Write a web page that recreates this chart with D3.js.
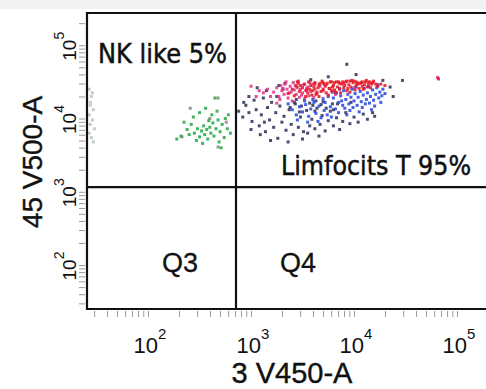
<!DOCTYPE html>
<html>
<head>
<meta charset="utf-8">
<script src="https://cdn.jsdelivr.net/npm/d3@7"></script>
<style>
  html, body { margin: 0; padding: 0; background: #fff; }
  svg { display: block; }
</style>
</head>
<body>
<div id="plot"></div>
<script>
// Events as [log10 V450-A, log10 V500-A] pairs
var tcellDark = [
  2.88,4.10, 2.92,4.02, 2.95,4.18, 2.98,4.08, 3.01,3.96, 3.03,4.25, 3.05,4.12, 3.08,3.90, 3.10,4.05, 3.12,4.28,
  3.14,3.82, 3.16,4.15, 3.18,3.98, 3.20,4.22, 3.22,3.88, 3.24,4.08, 3.26,3.73, 3.28,4.17, 3.30,3.95, 3.32,4.03,
  3.34,3.84, 3.37,4.12, 3.39,3.92, 3.41,3.78, 3.43,4.20, 3.46,3.88, 3.48,4.02, 3.51,3.82, 3.54,4.11, 3.57,3.90,
  3.59,3.99, 3.62,3.86, 3.64,4.14, 3.67,3.92, 3.69,4.04, 3.72,3.83, 3.75,3.97, 3.77,4.10, 3.80,3.90, 3.83,4.01,
  3.86,3.85, 3.89,3.96, 3.92,4.08, 3.96,3.93, 4.00,4.02, 4.04,3.95, 4.09,4.06, 4.13,3.99, 4.18,4.08, 3.31,4.40,
  3.27,4.45, 3.15,4.38, 3.06,4.42, 2.98,4.30, 3.09,3.78, 3.19,3.70, 3.36,3.68, 3.50,3.72, 3.66,3.76, 3.33,4.48,
  3.58,4.53, 3.75,4.57, 3.93,4.74, 4.02,4.60, 4.28,4.52, 4.35,4.43, 4.47,4.52, 4.38,4.30, 4.20,4.03, 3.84,4.20,
  3.60,4.18, 3.44,4.26, 3.25,4.30, 3.70,4.23, 3.97,4.22, 2.93,4.22, 3.00,3.85, 3.13,3.95, 3.55,3.80, 3.80,4.12,
  3.38,4.15, 3.42,4.22, 3.49,4.17, 3.57,4.21, 3.63,4.24, 3.68,4.19, 3.73,4.14, 3.79,4.20, 3.47,4.09, 3.62,4.10
];
var tcellPink = [
  3.22,4.36, 3.25,4.42, 3.27,4.30, 3.29,4.45, 3.30,4.38, 3.32,4.33, 3.33,4.47, 3.35,4.40, 3.36,4.28, 3.38,4.44,
  3.39,4.36, 3.41,4.49, 3.42,4.39, 3.44,4.33, 3.45,4.42, 3.47,4.29, 3.48,4.40, 3.50,4.35, 3.51,4.46, 3.53,4.38,
  3.55,4.43, 3.56,4.31, 3.58,4.37, 3.60,4.47, 3.62,4.40, 3.64,4.34, 3.67,4.44, 3.70,4.38, 3.73,4.46, 3.28,4.26,
  3.34,4.50, 3.40,4.24, 3.46,4.51, 3.52,4.27, 3.57,4.49, 3.12,4.35, 3.16,4.40, 3.19,4.30, 3.08,4.38, 3.31,4.41,
  3.37,4.35, 3.43,4.45, 3.49,4.32, 3.54,4.41, 3.61,4.29, 3.76,4.41, 3.82,4.33, 3.90,4.48, 4.00,4.42, 3.25,4.21,
  3.05,4.30, 3.00,4.44, 4.81,4.56
];
var tcellBlue = [
  3.80,4.28, 3.83,4.35, 3.85,4.22, 3.87,4.31, 3.89,4.18, 3.90,4.38, 3.92,4.26, 3.94,4.33, 3.95,4.20, 3.97,4.29,
  3.98,4.40, 4.00,4.24, 4.01,4.34, 4.03,4.18, 4.04,4.29, 4.06,4.37, 4.07,4.23, 4.09,4.32, 4.10,4.41, 4.12,4.26,
  4.13,4.35, 4.15,4.21, 4.16,4.30, 4.18,4.39, 4.19,4.25, 4.21,4.33, 4.22,4.42, 4.24,4.28, 4.25,4.36, 4.27,4.31,
  4.28,4.40, 4.30,4.34, 3.72,4.22, 3.75,4.30, 3.77,4.16, 3.79,4.36, 3.82,4.13, 3.86,4.41, 3.91,4.14, 3.96,4.11,
  4.02,4.43, 4.08,4.15, 4.14,4.44, 4.20,4.17, 4.26,4.22, 4.23,4.46, 3.40,4.12, 3.44,4.05, 3.47,4.16, 3.50,4.09,
  3.53,4.19, 3.56,4.03, 3.58,4.13, 3.61,4.22, 3.63,4.07, 3.66,4.17, 3.68,4.01, 3.71,4.11, 3.74,4.05, 3.36,4.20,
  3.45,3.98, 3.55,3.95, 3.65,3.96, 3.78,4.02, 3.85,4.08, 3.93,4.05, 4.05,4.09, 3.60,4.26, 3.70,4.27, 3.52,4.24,
  3.88,4.24, 3.99,4.15, 4.11,4.20, 4.17,4.12
];
var tcellRed = [
  3.40,4.40, 3.44,4.44, 3.47,4.37, 3.50,4.42, 3.52,4.47, 3.55,4.35, 3.57,4.40, 3.58,4.45, 3.60,4.38, 3.62,4.49,
  3.63,4.33, 3.65,4.42, 3.66,4.46, 3.68,4.37, 3.69,4.51, 3.70,4.40, 3.72,4.44, 3.73,4.35, 3.74,4.48, 3.76,4.41,
  3.77,4.50, 3.78,4.38, 3.80,4.45, 3.81,4.49, 3.82,4.36, 3.84,4.43, 3.85,4.50, 3.86,4.40, 3.88,4.47, 3.89,4.50,
  3.90,4.42, 3.92,4.50, 3.93,4.38, 3.95,4.46, 3.96,4.51, 3.97,4.43, 3.99,4.49, 4.00,4.51, 4.02,4.45, 4.03,4.49,
  4.05,4.41, 4.06,4.48, 4.08,4.50, 4.10,4.46, 4.11,4.50, 4.13,4.43, 4.15,4.50, 4.17,4.47, 4.19,4.51, 4.21,4.47,
  3.36,4.34, 3.42,4.31, 3.46,4.48, 3.53,4.30, 3.56,4.50, 3.61,4.43, 3.64,4.36, 3.67,4.48, 3.71,4.47, 3.75,4.32,
  3.79,4.43, 3.83,4.50, 3.87,4.35, 3.91,4.45, 3.94,4.41, 3.98,4.52, 4.01,4.39, 4.04,4.47, 4.07,4.49, 4.09,4.40,
  4.12,4.52, 4.14,4.48, 4.16,4.42, 4.18,4.49, 4.23,4.44, 3.48,4.45, 3.59,4.32, 3.70,4.49, 3.86,4.48, 3.93,4.51,
  4.02,4.50, 3.78,4.50, 3.54,4.39, 3.66,4.30, 3.81,4.39, 3.96,4.36, 4.08,4.44, 3.62,4.47, 3.45,4.50, 4.26,4.47,
  4.30,4.45, 4.82,4.54
];
var nkGreen = [
  2.45,3.80, 2.48,3.86, 2.50,3.75, 2.52,3.83, 2.54,3.90, 2.55,3.78, 2.57,3.85, 2.58,3.72, 2.60,3.88, 2.61,3.80,
  2.63,3.94, 2.64,3.76, 2.66,3.86, 2.68,3.98, 2.70,3.82, 2.42,3.92, 2.40,3.78, 2.38,3.85, 2.47,3.70, 2.53,3.66,
  2.59,3.97, 2.62,4.05, 2.67,4.10, 2.72,3.92, 2.75,4.00, 2.77,3.86, 2.74,3.74, 2.35,3.95, 2.32,3.76, 2.44,4.02,
  2.50,4.08, 2.56,4.14, 2.65,4.28, 2.69,3.68, 2.78,4.05, 2.80,3.80, 2.71,3.60, 2.28,3.72
];
var nkGrey = [2.41,4.14, 2.68,4.28, 2.68,3.61, 2.33,3.75, 2.60,4.00, 2.76,3.95];
var edgeEvents = [
  1.43,4.40, 1.45,4.30, 1.44,4.22, 1.47,4.12, 1.43,4.05, 1.46,3.98, 1.44,3.92, 1.48,3.86, 1.43,3.80, 1.45,3.74,
  1.47,3.68, 1.44,4.18, 1.46,4.35
];

var xMajors = [2, 3, 4, 5];
var yMajors = [2, 3, 4, 5];
var gateX = 715;
var gateY = 1160;
var quadrantLabels = ['NK like 5%', 'Limfocits T 95%', 'Q3', 'Q4'];
var xTitle = '3 V450-A';
var yTitle = '45 V500-A';

var W = 486, H = 389;
var plotLeft = 87, plotTop = 13, plotBottom = 309;

var svg = d3.select('#plot').append('svg')
  .attr('width', W)
  .attr('height', H);

svg.append('rect').attr('width', W).attr('height', 9).attr('fill', '#f2f2f2');

var x = d3.scaleLog()
  .domain([Math.pow(10, 1.408), Math.pow(10, 5.32)])
  .range([plotLeft, 490]);
var y = d3.scaleLog()
  .domain([Math.pow(10, 1.4), Math.pow(10, 5.44)])
  .range([plotBottom, plotTop]);

function toEvents(flat) {
  var out = [];
  for (var i = 0; i < flat.length; i += 2) {
    out.push({ x: Math.pow(10, flat[i]), y: Math.pow(10, flat[i + 1]) });
  }
  return out;
}

// minor log ticks 1..9 per decade
function logTicks(scale) {
  var d = scale.domain(), vals = [];
  for (var k = 1; k <= 5; k++) {
    for (var m = 1; m < 10; m++) {
      var v = m * Math.pow(10, k);
      if (v >= d[0] && v <= d[1]) vals.push(v);
    }
  }
  return vals;
}

var xAxis = svg.append('g')
  .attr('transform', 'translate(0,' + (plotBottom + 2) + ')')
  .call(d3.axisBottom(x).tickValues(logTicks(x)).tickSize(6).tickFormat(''));
var yAxis = svg.append('g')
  .attr('transform', 'translate(' + (plotLeft - 2) + ',0)')
  .call(d3.axisLeft(y).tickValues(logTicks(y)).tickSize(6).tickFormat(''));
[xAxis, yAxis].forEach(function (a) {
  a.select('.domain').remove();
  a.selectAll('line').attr('stroke', '#9a9a9a').attr('stroke-width', 1);
});

// dots
var groups = [
  { data: edgeEvents, color: '#b8c8b8' },
  { data: tcellDark, color: '#33335e' },
  { data: nkGrey, color: '#8a8a8a' },
  { data: nkGreen, color: '#2aaa4a' },
  { data: tcellPink, color: '#e03585' },
  { data: tcellBlue, color: '#2a4ce0' },
  { data: tcellRed, color: '#e41a24' }
];
var s = 3;
groups.forEach(function (g) {
  svg.append('g').selectAll('rect')
    .data(toEvents(g.data))
    .enter()
    .append('rect')
    .attr('x', d => x(d.x) - s / 2)
    .attr('y', d => y(d.y) - s / 2)
    .attr('width', s)
    .attr('height', s)
    .attr('fill', g.color)
    .attr('fill-opacity', 0.88);
});

// frame and quadrant gates
var frame = svg.append('g').attr('stroke', '#111').attr('stroke-width', 2.2).attr('fill', 'none');
frame.append('path').attr('d', 'M' + W + ',' + plotTop + 'H' + plotLeft + 'V' + plotBottom + 'H' + W);
frame.append('line')
  .attr('x1', x(gateX)).attr('x2', x(gateX))
  .attr('y1', plotTop).attr('y2', plotBottom);
frame.append('line')
  .attr('x1', plotLeft).attr('x2', W)
  .attr('y1', y(gateY)).attr('y2', y(gateY));

// tick labels
var xl = svg.append('g').attr('font-family', 'Liberation Sans, Arial, sans-serif').attr('fill', '#111');
xMajors.forEach(function (k) {
  var t = xl.append('text')
    .attr('x', x(Math.pow(10, k)) + 2)
    .attr('y', 353)
    .attr('text-anchor', 'middle')
    .attr('font-size', 22);
  t.append('tspan').text('10');
  t.append('tspan').attr('font-size', 15).attr('dy', -14).text(k);
});
yMajors.forEach(function (k) {
  var t = xl.append('text')
    .attr('transform', 'translate(76,' + (y(Math.pow(10, k)) + 1) + ') rotate(-90)')
    .attr('text-anchor', 'middle')
    .attr('font-size', 19);
  t.append('tspan').text('10');
  t.append('tspan').attr('font-size', 14).attr('dy', -12).text(k);
});

xl.append('text')
  .attr('x', 292).attr('y', 383)
  .attr('text-anchor', 'middle')
  .attr('font-size', 29)
  .attr('stroke', '#111').attr('stroke-width', 0.4)
  .text(xTitle);
xl.append('text')
  .attr('transform', 'translate(42,162) rotate(-90)')
  .attr('text-anchor', 'middle')
  .attr('font-size', 28)
  .attr('stroke', '#111').attr('stroke-width', 0.4)
  .text(yTitle);

// quadrant labels
var ql = svg.append('g').attr('fill', '#111').attr('stroke', '#111').attr('stroke-width', 0.5);
ql.append('text').attr('x', 98).attr('y', 63)
  .attr('font-family', 'DejaVu Sans, sans-serif').attr('font-size', 26)
  .attr('textLength', 129).attr('lengthAdjust', 'spacingAndGlyphs')
  .text(quadrantLabels[0]);
ql.append('text').attr('x', 281).attr('y', 175)
  .attr('font-family', 'DejaVu Sans, sans-serif').attr('font-size', 26)
  .attr('textLength', 190).attr('lengthAdjust', 'spacingAndGlyphs')
  .text(quadrantLabels[1]);
ql.append('text').attr('x', 162).attr('y', 272)
  .attr('font-family', 'Liberation Sans, Arial, sans-serif').attr('font-size', 27)
  .attr('stroke-width', 0.3)
  .text(quadrantLabels[2]);
ql.append('text').attr('x', 280).attr('y', 272)
  .attr('font-family', 'Liberation Sans, Arial, sans-serif').attr('font-size', 27)
  .attr('stroke-width', 0.3)
  .text(quadrantLabels[3]);
</script>
</body>
</html>
